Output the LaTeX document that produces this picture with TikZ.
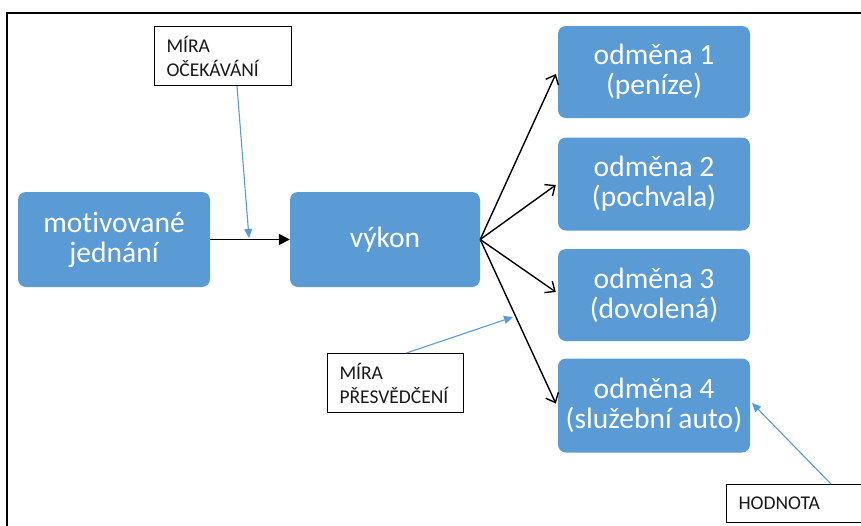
\documentclass[tikz,border=0pt]{standalone}
\usepackage{fontspec}
\setmainfont{Carlito}[Ligatures={NoCommon}]
\usetikzlibrary{arrows.meta,calc}
\definecolor{boxblue}{HTML}{5B9BD5}
\definecolor{lineblue}{HTML}{5B9BD5}
\tikzset{
  bluebox/.style={fill=boxblue, rounded corners=8pt, text=white, align=center,
    minimum width=192pt, inner sep=0pt, font=\fontsize{29.5}{30}\selectfont},
  notebox/.style={draw=black, line width=1pt, align=left, inner xsep=12pt, inner ysep=0pt,
    anchor=north west, font=\fontsize{19.5}{24}\selectfont, text=black!90},
  fan/.style={draw=black, line width=1.4pt, -{Straight Barb[length=8pt,width=14pt,line width=1.4pt]}},
  mainarrow/.style={draw=black, line width=1.4pt, -{Triangle[length=11pt,width=11pt]}},
  bluearrow/.style={draw=lineblue, line width=1.1pt, -{Triangle[length=9pt,width=8pt]}},
}
\begin{document}
\begin{tikzpicture}[x=1pt,y=-1pt]
\clip (0,0) rectangle (861,525);
\fill[white] (0,0) rectangle (861,525);
\draw[line width=1.6pt, black] (7,13) rectangle (900,560);

% main boxes
\node[bluebox, minimum width=192pt, minimum height=95pt] (mj) at (114,239.5) {motivované\\jednání};
\node[bluebox, minimum width=190pt, minimum height=95pt] (vy) at (385,239.5) {výkon};
\node[bluebox, minimum height=92pt] (o1) at (654,72) {odměna 1\\(peníze)};
\node[bluebox, minimum height=93pt] (o2) at (654,184) {odměna 2\\(pochvala)};
\node[bluebox, minimum height=92pt] (o3) at (654,295) {odměna 3\\(dovolená)};
\node[bluebox, minimum height=94pt] (o4) at (654,405.5) {odměna 4\\(služební auto)};

% note boxes
\node[notebox, minimum width=137pt, minimum height=59pt, text width=113pt] (mo) at (154,26) {MÍRA\\OČEKÁVÁNÍ};
\node[notebox, minimum width=136pt, minimum height=59pt, text width=112pt] (mp) at (327,353) {MÍRA\\PŘESVĚDČENÍ};
\node[notebox, minimum width=150pt, minimum height=38pt, text width=126pt] (hd) at (726,484) {HODNOTA};

% connectors
\draw[mainarrow] (mj.east) -- (vy.west);
\draw[fan] (vy.east) -- ($(o1.west)+(-2,2)$);
\draw[fan] (vy.east) -- ($(o2.west)+(-2,1)$);
\draw[fan] (vy.east) -- ($(o3.west)+(-2,-3)$);
\draw[fan] (vy.east) -- ($(o4.west)+(-2,-2)$);

\coordinate (t1) at (249,238);
\coordinate (t2) at (513,317);
\coordinate (t3) at (752,403);
\draw[bluearrow] ($(mo.south)+(14,0)$) -- (t1);
\draw[bluearrow] ($(mp.north)+(11,0)$) -- (t2);
\draw[bluearrow] ($(hd.north west)+(105,0)$) -- (t3);
\end{tikzpicture}
\end{document}
